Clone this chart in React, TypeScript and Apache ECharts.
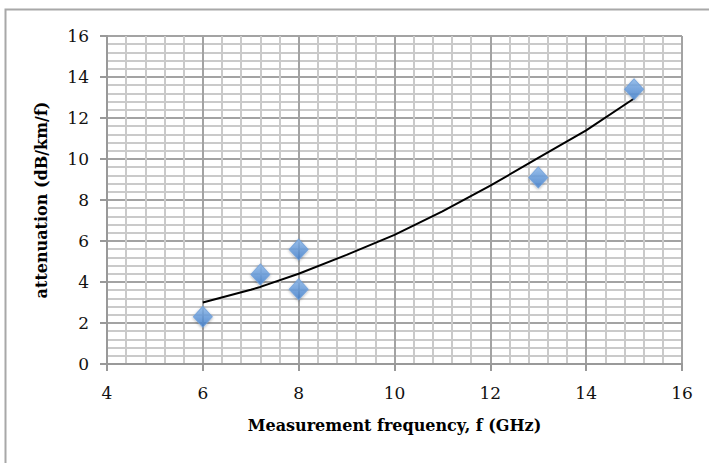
import React, { useEffect, useRef } from "react";
import * as echarts from "echarts";

const freqPoints = [6, 7.2, 8, 8, 13, 15];
const attenPoints = [2.3, 4.37, 5.58, 3.65, 9.1, 13.4];

const trendX = [6, 7, 7.2, 8, 9, 10, 11, 12, 13, 14, 15];
const trendY = [3.0, 3.62, 3.76, 4.4, 5.32, 6.3, 7.45, 8.7, 10.05, 11.4, 12.95];

const xTitle = "Measurement frequency, f (GHz)";
const yTitle = "attenuation (dB/km/f)";

export default function App() {
  const ref = useRef<HTMLDivElement>(null);
  useEffect(() => {
    if (!ref.current) return;
    const chart = echarts.init(ref.current, undefined, { renderer: "svg" });
    const font = "'DejaVu Serif', 'Liberation Serif', serif";
    chart.setOption({
      animation: false,
      backgroundColor: "#ffffff",
      grid: { left: 107, right: 27, top: 36, bottom: 99, containLabel: false },
      graphic: [
        {
          type: "rect",
          shape: { x: 5.5, y: 9.5, width: 740, height: 500 },
          style: { fill: "none", stroke: "#a8a8a8", lineWidth: 2 },
          silent: true,
        },
      ],
      xAxis: {
        type: "value",
        min: 4,
        max: 16,
        interval: 2,
        name: xTitle,
        nameLocation: "middle",
        nameGap: 53,
        nameTextStyle: { fontFamily: font, fontSize: 16, fontWeight: "bold", color: "#000" },
        axisLine: { show: true, lineStyle: { color: "#999", width: 2 } },
        axisTick: { show: true, length: 7, lineStyle: { color: "#999", width: 2 } },
        axisLabel: { fontFamily: font, fontSize: 17, color: "#111", margin: 20 },
        splitLine: { show: true, lineStyle: { color: "#a3a3a3", width: 2 } },
        minorTick: { show: false, splitNumber: 5 },
        minorSplitLine: { show: true, lineStyle: { color: "#cacaca", width: 2 } },
      },
      yAxis: {
        type: "value",
        min: 0,
        max: 16,
        interval: 2,
        name: yTitle,
        nameLocation: "middle",
        nameGap: 58,
        nameTextStyle: { fontFamily: font, fontSize: 16, fontWeight: "bold", color: "#000" },
        axisLine: { show: true, lineStyle: { color: "#999", width: 2 } },
        axisTick: { show: true, length: 7, lineStyle: { color: "#999", width: 2 } },
        axisLabel: { fontFamily: font, fontSize: 17, color: "#111", margin: 18 },
        splitLine: { show: true, lineStyle: { color: "#a3a3a3", width: 2 } },
        minorTick: { show: false, splitNumber: 5 },
        minorSplitLine: { show: true, lineStyle: { color: "#cacaca", width: 2 } },
      },
      series: [
        {
          type: "line",
          data: trendX.map((x, i) => [x, trendY[i]]),
          symbol: "none",
          lineStyle: { color: "#000", width: 2 },
          z: 2,
        },
        {
          type: "scatter",
          data: freqPoints.map((x, i) => [x, attenPoints[i]]),
          symbol: "diamond",
          symbolSize: [19, 21],
          itemStyle: {
            color: new echarts.graphic.LinearGradient(0, 0, 0, 1, [
              { offset: 0, color: "#8ab8ec" },
              { offset: 1, color: "#3f7fcf" },
            ]),
            borderColor: "#6f9fd8",
            borderWidth: 1,
            shadowColor: "rgba(0,0,0,0.35)",
            shadowBlur: 3,
            shadowOffsetY: 1,
          },
          z: 3,
        },
      ],
    });
    return () => chart.dispose();
  }, []);
  return (
    <div
      ref={ref}
      style={{ position: "absolute", left: 0, top: 0, width: 709, height: 463 }}
    />
  );
}
